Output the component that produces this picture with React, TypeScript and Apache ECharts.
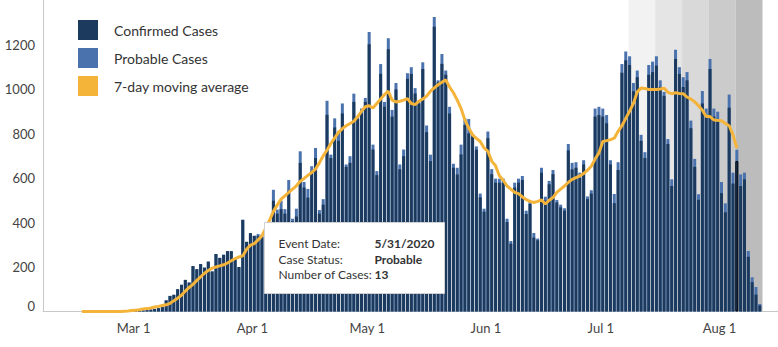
import React, { useEffect, useRef } from 'react';
import * as echarts from 'echarts';

// Day index 0 = 2/16/2020 (x axis is the day index)
const tickDays = [13.5, 44.5, 74.5, 105.5, 135.5, 166.5];
const tickLabels = ['Mar 1', 'Apr 1', 'May 1', 'Jun 1', 'Jul 1', 'Aug 1'];

const confirmed = [
  0, 0, 0, 0, 0, 0, 0, 0, 0, 0, 0, 0, 0, 0,
  2, 3, 5, 6, 9, 12, 15, 20,
  50, 70, 75, 100, 120, 142, 130, 204, 190, 213, 197, 224, 180, 258, 241, 255, 271, 271, 235, 200, 412, 313, 352, 340,
  340, 335, 330, 375,
  498, 440, 460, 440, 542, 405, 427, 668, 557, 512, 631, 690, 440, 480, 884, 690, 827, 767, 890, 650, 668, 942, 866, 890, 942, 1201, 728, 613,
  1068, 920, 1179, 876, 998, 639, 698, 1046, 1068, 980, 935, 1090, 806, 676, 1280, 1030, 1113, 1064, 890, 646, 616, 706, 838, 800, 786, 727, 513, 449, 779, 617,
  579, 579, 579, 402, 305, 557, 579, 591, 438, 483, 332, 320, 624, 498, 572, 617, 490, 468, 453, 724, 639, 646, 601, 661, 505, 530, 876, 883, 876, 846, 661, 487, 636,
  1073, 1129, 1108, 990, 1053, 767, 690, 1064, 1076, 1105, 1009, 969, 753, 564, 1135, 1068, 1009, 1039, 824, 650, 502, 935, 876, 1090, 876, 853, 532, 446, 916, 575, 676, 564, 594, 246, 132, 76, 27,
];

const probable = [
  0, 0, 0, 0, 0, 0, 0, 0, 0, 0, 0, 0, 0, 0,
  0, 0, 0, 0, 0, 0, 0, 0,
  0, 0, 0, 0, 0, 0, 0, 0, 0, 0, 0, 0, 0, 0, 0, 0, 0, 0, 0, 0, 0, 0, 0, 0,
  8, 10, 8, 10,
  49, 18, 38, 20, 49, 12, 35, 52, 25, 39, 22, 45, 16, 25, 63, 15, 41, 42, 45, 11, 30, 37, 10, 22, 18, 55, 22, 18,
  44, 22, 49, 30, 29, 22, 30, 25, 30, 24, 7, 30, 30, 29, 44, 9, 44, 19, 30, 18, 30, 44, 30, 65, 11, 15, 17, 13, 30, 23,
  18, 18, 18, 15, 12, 22, 18, 18, 15, 15, 21, 8, 22, 18, 15, 19, 11, 12, 11, 29, 29, 25, 23, 19, 12, 15, 36, 37, 36, 37, 19, 41, 35,
  39, 40, 39, 37, 30, 27, 26, 44, 47, 42, 30, 18, 22, 30, 41, 30, 44, 37, 34, 36, 25, 56, 36, 45, 36, 45, 50, 40, 59, 49, 51, 52, 30, 26, 22, 34, 7,
];

const movingAvg = [
  0, 0, 0, 0, 0, 0, 0, 0, 0, 0, 0,
  1, 2, 4, 6, 8, 11, 13, 16, 20, 23,
  27, 30, 37, 48, 60, 73, 92, 108, 122, 140,
  156, 172, 184, 195, 200, 205, 210, 218, 228, 238,
  245, 250, 280, 298, 305, 322, 340, 375, 410, 450,
  478, 505, 520, 535, 550, 565, 585, 598, 612, 625,
  640, 668, 700, 725, 755, 780, 805, 822, 835, 845,
  855, 875, 900, 920, 925, 915, 935, 955, 975, 990,
  950, 942, 945, 950, 957, 935, 930, 945, 955, 968,
  990, 1005, 1019, 1030, 1041, 1009, 983, 950, 912, 860,
  825, 794, 778, 764, 735, 720, 676, 655, 610, 590,
  564, 550, 535, 530, 515, 503, 495, 490, 495, 501,
  483, 500, 512, 535, 550, 564, 580, 594, 602, 609,
  620, 635, 653, 685, 713, 764, 768, 772, 779, 810,
  835, 868, 900, 935, 987, 1004, 1002, 998, 998, 998,
  1000, 1004, 985, 979, 983, 980, 979, 964, 955, 942,
  925, 905, 876, 876, 861, 859, 857, 845, 835, 794, 735,
];

// weekly shaded periods (day index) for incomplete recent data
const bandStarts = [142.7, 149.7, 156.7, 163.7, 170.7];
const bandColors = ['#f2f2f2', '#e5e5e5', '#d9d9d9', '#cbcbcb', '#bcbcbc'];
const highlightDay = 171;

const tooltipRows: [string, string][] = [
  ['Event Date:', '5/31/2020'],
  ['Case Status:', 'Probable'],
  ['Number of Cases:', '13'],
];

const seriesNames = ['Confirmed Cases', 'Probable Cases', '7-day moving average'];
const colors = ['#1b3a5e', '#4a72ad', '#f4b43a'];

export default function App() {
  const ref = useRef<HTMLDivElement>(null);
  useEffect(() => {
    document.body.style.margin = '0';
    if (!ref.current) return;
    const chart = echarts.init(ref.current, undefined, { renderer: 'svg' });
    const font = 'Lato';
    const confirmedData = confirmed.map((v, i) =>
      i === highlightDay
        ? { value: [i, v], itemStyle: { borderColor: '#000', borderWidth: 1 } }
        : { value: [i, v] }
    );
    // probable cases sit on top of confirmed cases: bar drawn to the running total
    const probableTopData = probable.map((v, i) => [i, confirmed[i] + v]);
    const avgData = movingAvg.map((v, i) => [i, v]);

    chart.setOption({
      animation: false,
      textStyle: { fontFamily: font },
      grid: { left: 43, right: 0, top: 0, bottom: 35.5, containLabel: false },
      legend: {
        orient: 'vertical',
        left: 78,
        top: 20,
        padding: 0,
        itemWidth: 20,
        itemHeight: 20,
        itemGap: 8,
        selectedMode: false,
        textStyle: { fontFamily: font, fontSize: 14, color: '#333', padding: [0, 0, 0, 11] },
        data: seriesNames.map((n) => ({ name: n, icon: 'rect' })),
      },
      xAxis: {
        type: 'value',
        min: -10.16,
        max: 181.75,
        splitLine: { show: false },
        axisLine: { show: true, onZero: false, lineStyle: { color: '#c8c8c8', width: 1 } },
        axisTick: { show: false },
        axisLabel: {
          customValues: tickDays,
          formatter: (v: number) => {
            const k = tickDays.indexOf(v);
            return k >= 0 ? tickLabels[k] : '';
          },
          color: '#444',
          fontSize: 13,
          fontFamily: font,
          margin: 10,
        },
      },
      yAxis: {
        type: 'value',
        min: 0,
        max: 1400,
        interval: 200,
        splitLine: { show: false },
        axisLine: { show: true, onZero: false, lineStyle: { color: '#c8c8c8', width: 1 } },
        axisTick: { show: false },
        axisLabel: {
          showMaxLabel: false,
          color: '#444',
          fontSize: 13,
          fontFamily: font,
          margin: 8,
          lineHeight: 11,
          formatter: (v: number) => (v === 0 ? '0\n' : String(v)),
        },
      },
      tooltip: { show: false },
      series: [
        {
          name: seriesNames[1],
          type: 'bar',
          barWidth: 3,
          barGap: '-100%',
          itemStyle: { color: colors[1] },
          data: probableTopData,
          markArea: {
            silent: true,
            data: bandStarts.map((s, k) => [
              { xAxis: s, itemStyle: { color: bandColors[k] } },
              { xAxis: s + 7 },
            ]),
          },
        },
        {
          name: seriesNames[0],
          type: 'bar',
          barWidth: 3,
          barGap: '-100%',
          itemStyle: { color: colors[0] },
          data: confirmedData,
        },
        {
          name: seriesNames[2],
          type: 'line',
          data: avgData,
          symbol: 'none',
          showSymbol: false,
          lineStyle: { color: colors[2], width: 3 },
          itemStyle: { color: colors[2] },
          z: 5,
        },
      ],
      graphic: [
        {
          type: 'group',
          left: 264,
          top: 222,
          z: 100,
          children: [
            {
              type: 'rect',
              z: 100,
              shape: { x: 0, y: 0, width: 180, height: 71 },
              style: { fill: '#ffffff', stroke: '#d0d0d0', lineWidth: 1 },
            },
            ...tooltipRows.flatMap(([label, val], r) => [
              {
                type: 'text',
                z: 101,
                x: 14,
                y: 21 + r * 15.5,
                style: { text: label, font: `12px ${font}`, fill: '#333', verticalAlign: 'middle' },
              },
              {
                type: 'text',
                z: 101,
                x: 110,
                y: 21 + r * 15.5,
                style: { text: val, font: `bold 12px ${font}`, fill: '#333', verticalAlign: 'middle' },
              },
            ]),
          ],
        },
      ],
    });
    return () => chart.dispose();
  }, []);
  return (
    <div style={{ position: 'fixed', left: 0, top: 0, width: 778, height: 347, background: '#fff' }}>
      <div ref={ref} style={{ width: 778, height: 347 }} />
    </div>
  );
}
